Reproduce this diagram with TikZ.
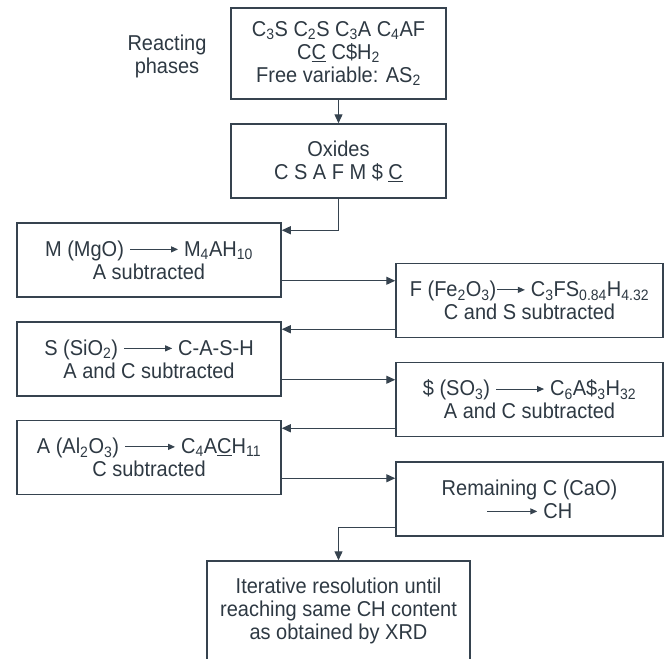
\documentclass[tikz,border=0pt]{standalone}
\usepackage{fontspec}
\setmainfont[FakeStretch=0.93]{Liberation Sans}
\usepackage{xcolor}
\usepackage{tikz}
\usetikzlibrary{arrows.meta, positioning, calc}
\definecolor{linecol}{HTML}{36434F}
\definecolor{txtcol}{HTML}{2E3943}
\tikzset{
    box/.style={draw=linecol, line width=1.5pt, rectangle, align=center, inner sep=0pt, text=txtcol},
    leftbox/.style={box, minimum width=264pt, minimum height=74pt},
    rightbox/.style={box, minimum width=267pt, minimum height=74pt},
    flow/.style={draw=linecol, line width=1.3pt, -{Triangle[length=9pt,width=8pt]}},
    every node/.style={font=\fontsize{21.5}{23}\selectfont}
}
% inline reaction arrow
\newcommand{\yields}[1][48pt]{\tikz[baseline=-0.6ex]\draw[draw=linecol, line width=1pt, -{Triangle[length=7pt,width=6pt]}] (0pt,0pt) -- (#1,0pt);}

\begin{document}
\begin{tikzpicture}[x=1pt, y=-1pt]
    \useasboundingbox[fill=white] (0,0) rectangle (665,659);
    % === TOP ===
    \node[box, minimum width=215pt, minimum height=91pt] (phases) at (338.5,53.5)
        {C\textsubscript{3}S C\textsubscript{2}S C\textsubscript{3}A C\textsubscript{4}AF\\
         C\underline{C} C\$H\textsubscript{2}\\
         Free variable: AS\textsubscript{2}};
    \node[align=center, text=txtcol] (lbl) at (167,56) {Reacting\\phases};
    \node[box, minimum width=215pt, minimum height=74pt] (oxides) at (338.5,161)
        {Oxides\\C S A F M \$ \underline{C}};
    %
    % === LEFT COLUMN ===
    \node[leftbox] (mgo) at (149,260)
        {M (MgO) \yields{} M\textsubscript{4}AH\textsubscript{10}\\A subtracted};
    \node[leftbox] (sio) at (149,359)
        {S (SiO\textsubscript{2}) \yields{} C-A-S-H\\A and C subtracted};
    \node[leftbox] (alo) at (149,457.5)
        {A (Al\textsubscript{2}O\textsubscript{3}) \yields[50pt]{} C\textsubscript{4}A\underline{C}H\textsubscript{11}\\C subtracted};
    %
    % === RIGHT COLUMN ===
    \node[rightbox] (feo) at (529.5,300.5)
        {F (Fe\textsubscript{2}O\textsubscript{3})\yields[28pt]{} C\textsubscript{3}FS\textsubscript{0.84}H\textsubscript{4.32}\\C and S subtracted};
    \node[rightbox] (so) at (529.5,399.5)
        {\$ (SO\textsubscript{3}) \yields{} C\textsubscript{6}A\$\textsubscript{3}H\textsubscript{32}\\A and C subtracted};
    \node[rightbox] (cao) at (529.5,499)
        {Remaining C (CaO)\\\yields[50pt]{} CH};
    %
    % === RESULT ===
    \node[box, minimum width=263pt, minimum height=99pt] (xrd) at (338.5,610.5)
        {Iterative resolution until\\reaching same CH content\\as obtained by XRD};
    %
    % connectors
    \draw[flow] (phases) -- (oxides);
    \draw[flow] (oxides.south) |- ([yshift=-8pt]mgo.north east);
    \draw[flow] ([yshift=17pt]mgo.south east) -- ([yshift=17pt]mgo.south east -| feo.west);
    \draw[flow] ([yshift=9pt]feo.south west) -- ([yshift=9pt]feo.south west -| sio.east);
    \draw[flow] ([yshift=17pt]sio.south east) -- ([yshift=17pt]sio.south east -| so.west);
    \draw[flow] ([yshift=9pt]so.south west) -- ([yshift=9pt]so.south west -| alo.east);
    \draw[flow] ([yshift=17pt]alo.south east) -- ([yshift=17pt]alo.south east -| cao.west);
    \draw[flow] ([yshift=9pt]cao.south west) -| (xrd.north);
\end{tikzpicture}
\end{document}
